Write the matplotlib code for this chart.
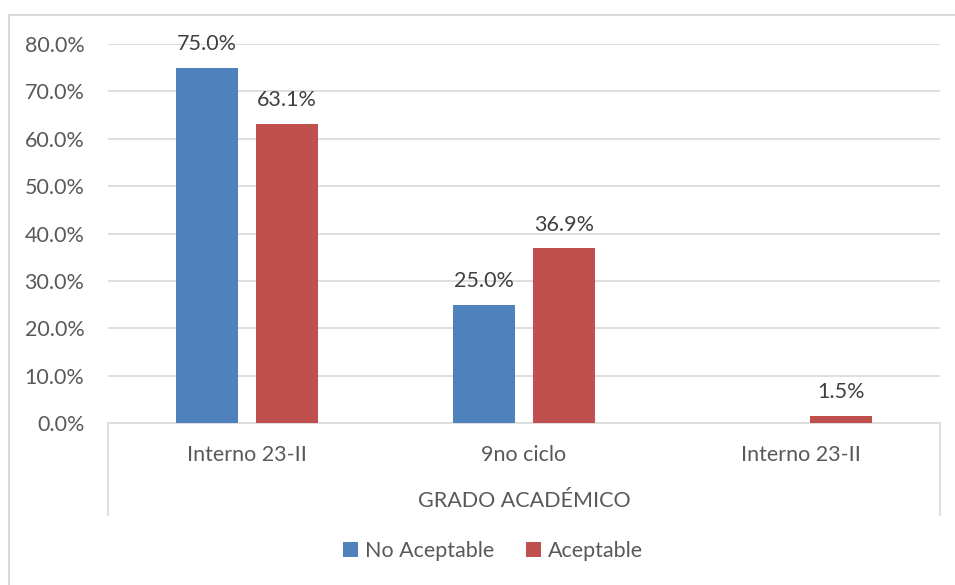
import matplotlib
matplotlib.use("Agg")
import matplotlib.pyplot as plt
from matplotlib.patches import Rectangle
from matplotlib.lines import Line2D
import numpy as np

categories = ["Interno 23-II", "9no ciclo", "Interno 23-II"]
series_names = ["No Aceptable", "Aceptable"]
no_aceptable = [75.0, 25.0, None]
aceptable = [63.1, 36.9, 1.5]
y_ticks = [0, 10, 20, 30, 40, 50, 60, 70, 80]
axis_title = "GRADO ACADÉMICO"

colors = ["#4F81BD", "#C0504D"]
text_color = "#595959"
grid_color = "#D9D9D9"
fs = 15.5

plt.rcParams["font.family"] = ["Lato", "DejaVu Sans"]

W, H = 955, 585
fig = plt.figure(figsize=(W / 100, H / 100), dpi=100)

x0, x1, y0, y1 = 108, 940, 423, 44
ax = fig.add_axes([x0 / W, 1 - y0 / H, (x1 - x0) / W, (y0 - y1) / H])

x = np.arange(len(categories))
bw = 0.224
off = 0.144
for vals, sign, col, name in [(no_aceptable, -1, colors[0], series_names[0]),
                              (aceptable, 1, colors[1], series_names[1])]:
    v = [np.nan if a is None else a for a in vals]
    bars = ax.bar(x + sign * off, v, bw, color=col, label=name, zorder=3)
    for b, a in zip(bars, vals):
        if a is None:
            continue
        ax.annotate(f"{a:.1f}%", (b.get_x() + b.get_width() / 2, a),
                    xytext=(0, 17), textcoords="offset points",
                    ha="center", va="center", fontsize=fs, color="#404040")

ax.set_xlim(-0.5, len(categories) - 0.5)
ax.set_ylim(0, 80)
ax.set_yticks(y_ticks)
ax.set_yticklabels([f"{t:.1f}%" for t in y_ticks], fontsize=fs, color=text_color)
ax.yaxis.grid(True, color=grid_color, linewidth=1.2, zorder=0)
ax.tick_params(axis="y", length=0, pad=17)
ax.tick_params(axis="x", length=0, pad=16)
ax.set_xticks(x)
ax.set_xticklabels(categories, fontsize=fs, color=text_color)
for s in ["left", "right", "top"]:
    ax.spines[s].set_visible(False)
ax.spines["bottom"].set_color(grid_color)
ax.spines["bottom"].set_linewidth(1.2)

# vertical separators of the category axis
for xp in (x0, x1):
    fig.add_artist(Line2D([xp / W, xp / W], [1 - y0 / H, 1 - 515 / H],
                          color=grid_color, linewidth=1.2))

fig.text((x0 + x1) / 2 / W, 1 - 501 / H, axis_title, ha="center", va="center",
         fontsize=fs, color=text_color)

# chart area border
fig.add_artist(Rectangle((8.5 / W, -0.1), 1.1, 1 - 14.5 / H + 0.1,
                         transform=fig.transFigure, fill=False,
                         edgecolor="#D9D9D9", linewidth=1.5))

handles, labels = ax.get_legend_handles_labels()
fig.legend(handles, labels, loc="center", bbox_to_anchor=(493 / W, 1 - 551 / H),
           ncol=2, frameon=False, fontsize=fs, handlelength=0.7, handleheight=0.7,
           columnspacing=1.5, handletextpad=0.3, labelcolor=text_color)

fig.savefig("out.png", dpi=100)
